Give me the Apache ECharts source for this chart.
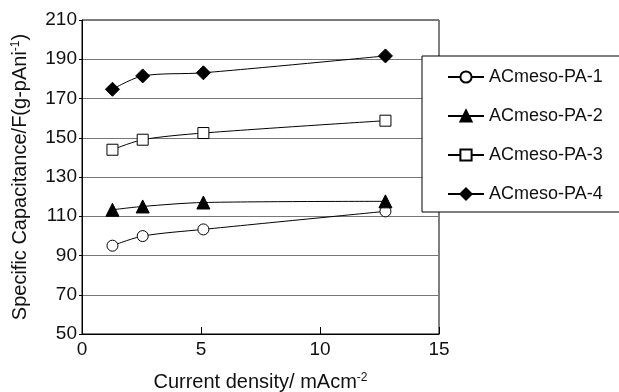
<!DOCTYPE html>
<html>
<head>
<meta charset="utf-8">
<script src="https://cdn.jsdelivr.net/npm/echarts@6/dist/echarts.min.js"></script>
<style>html,body{margin:0;padding:0;background:#fff;}#c{width:619px;height:392px;}</style>
</head>
<body>
<div id="c"></div>
<script>
const currentDensity = [1.28, 2.55, 5.1, 12.75];
const seriesNames = ['ACmeso-PA-1', 'ACmeso-PA-2', 'ACmeso-PA-3', 'ACmeso-PA-4'];
const pa1 = [95.0, 99.9, 103.3, 112.5];
const pa2 = [113.3, 115.0, 117.0, 117.6];
const pa3 = [143.9, 149.0, 152.4, 158.7];
const pa4 = [174.7, 181.5, 183.1, 191.7];
const yTicks = [50, 70, 90, 110, 130, 150, 170, 190, 210];
const xTicks = [0, 5, 10, 15];

const FONT = '"Liberation Sans", Arial, sans-serif';
const chart = echarts.init(document.getElementById('c'), null, {renderer: 'canvas'});

function pairs(vals) { return currentDensity.map((x, i) => [x, vals[i]]); }

const styles = [
  {symbol: 'circle', size: 11, fill: '#fff'},
  {symbol: 'triangle', size: 13, fill: '#000'},
  {symbol: 'rect', size: 11, fill: '#fff'},
  {symbol: 'diamond', size: 14, fill: '#000'}
];
const allVals = [pa1, pa2, pa3, pa4];

chart.setOption({
  animation: false,
  backgroundColor: '#fff',
  textStyle: {fontFamily: FONT, color: '#111'},
  grid: {left: 82, top: 20, right: 180, bottom: 58, containLabel: false, outerBoundsMode: 'none',
    show: true, borderColor: '#000', borderWidth: 1, backgroundColor: 'transparent'},
  legend: {
    orient: 'vertical',
    left: 422, top: 56,
    padding: [12, 40, 9, 25],
    itemWidth: 36, itemHeight: 14, itemGap: 21,
    backgroundColor: '#fff', borderColor: '#000', borderWidth: 1, borderRadius: 0,
    textStyle: {fontFamily: FONT, fontSize: 18, color: '#111'},
    data: seriesNames
  },
  xAxis: {
    type: 'value', min: 0, max: 15, interval: 5,
    axisLine: {show: true, lineStyle: {color: '#000', width: 1}},
    axisTick: {show: true, inside: true, length: 7, lineStyle: {color: '#000'}},
    axisLabel: {fontFamily: FONT, fontSize: 19, color: '#111', margin: 6,
      formatter: v => xTicks.includes(v) ? String(v) : ''},
    splitLine: {show: false},
    name: 'Current density/ mAcm{sup|-2}',
    nameLocation: 'middle', nameGap: 38,
    nameTextStyle: {fontFamily: FONT, fontSize: 20, color: '#111',
      rich: {sup: {fontSize: 12, verticalAlign: 'top', lineHeight: 20, fontFamily: FONT, color: '#111'}}}
  },
  yAxis: {
    type: 'value', min: 50, max: 210, interval: 20,
    axisLine: {show: true, lineStyle: {color: '#000', width: 1}},
    axisTick: {show: true, inside: false, length: 3, lineStyle: {color: '#000'}},
    axisLabel: {fontFamily: FONT, fontSize: 19, color: '#111', margin: 5,
      formatter: v => yTicks.includes(v) ? String(v) : ''},
    splitLine: {show: true, lineStyle: {color: '#777', width: 1}},
    name: 'Specific Capacitance/F(g-pAni{sup|-1})',
    nameLocation: 'middle', nameGap: 52, nameRotate: 90,
    nameTextStyle: {fontFamily: FONT, fontSize: 20, color: '#111',
      rich: {sup: {fontSize: 12, verticalAlign: 'top', lineHeight: 20, fontFamily: FONT, color: '#111'}}}
  },
  series: seriesNames.map((n, i) => ({
    name: n, type: 'line', smooth: 0.3,
    data: pairs(allVals[i]),
    symbol: styles[i].symbol, symbolSize: styles[i].size,
    showAllSymbol: true,
    lineStyle: {color: '#000', width: 1},
    itemStyle: {color: styles[i].fill, borderColor: '#000', borderWidth: 1, opacity: 1},
    emphasis: {disabled: true},
    z: 3
  }))
});
</script>
</body>
</html>
